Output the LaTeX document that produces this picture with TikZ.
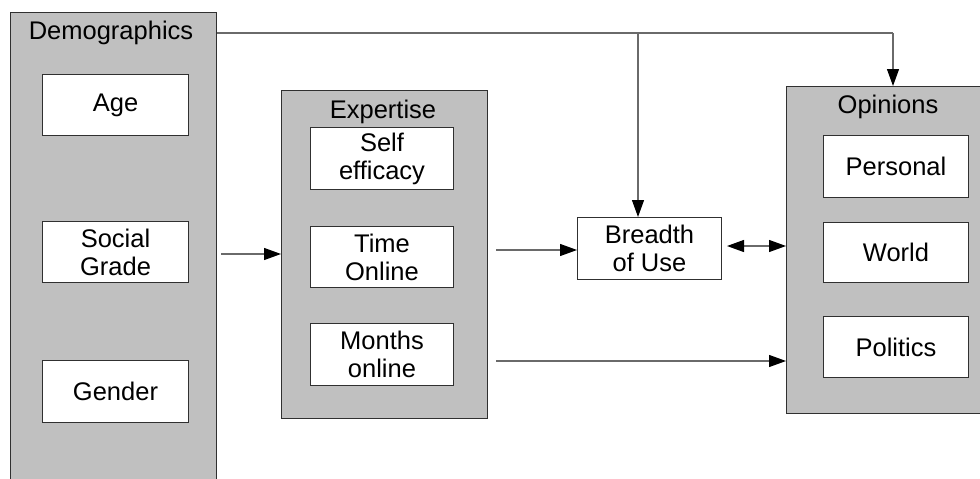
\documentclass[tikz,border=0pt]{standalone}
\usepackage{fontspec}
\setmainfont{Liberation Sans}
\usetikzlibrary{arrows.meta}
\definecolor{boxgray}{HTML}{C0C0C0}
\definecolor{edgegray}{HTML}{303030}
\definecolor{linegray}{HTML}{6A6A6A}
\tikzset{
  group/.style={draw=edgegray, fill=boxgray, line width=1pt, rectangle, anchor=north west, inner sep=0pt},
  item/.style={draw=edgegray, fill=white, line width=1pt, rectangle, anchor=north west, inner sep=0pt,
    align=center, font=\fontsize{25.5}{28}\selectfont},
  title/.style={font=\fontsize{25.5}{28}\selectfont, inner sep=0pt},
  tip/.style={},
  conn/.style={draw=linegray, line width=1.2pt, -{Triangle[length=17pt,width=12pt,color=black]}},
  dconn/.style={draw=linegray, line width=1.2pt, {Triangle[length=17pt,width=12pt,color=black]}-{Triangle[length=17pt,width=12pt,color=black]}},
  plain/.style={draw=linegray, line width=1.2pt}
}
\begin{document}
\begin{tikzpicture}[x=1pt,y=1pt]
\useasboundingbox (0,0) rectangle (980,-479);
\clip (0,0) rectangle (980,-479);
% Demographics group
\node[group, minimum width=206pt, minimum height=480pt] (demo) at (10,-12) {};
\node[title] (demotitle) at (111,-33) {Demographics};
\node[item, minimum width=146pt, minimum height=61pt] (age) at (42,-74) {Age};
\node[item, minimum width=146pt, minimum height=61pt] (social) at (42,-221) {Social\\Grade};
\node[item, minimum width=146pt, minimum height=62pt] (gender) at (42,-360) {Gender};
% Expertise group
\node[group, minimum width=206pt, minimum height=328pt] (expert) at (281,-90) {};
\node[title] (experttitle) at (383,-112) {Expertise};
\node[item, minimum width=143pt, minimum height=62pt] (self) at (310,-127) {Self\\efficacy};
\node[item, minimum width=143pt, minimum height=61pt] (time) at (310,-226) {Time\\Online};
\node[item, minimum width=143pt, minimum height=62pt] (months) at (310,-323) {Months\\online};
% Breadth of use
\node[item, minimum width=144pt, minimum height=62pt] (breadth) at (577,-217) {Breadth\\of Use};
% Opinions group
\node[group, minimum width=210pt, minimum height=327pt] (opin) at (786,-86) {};
\node[title] (opintitle) at (888,-107) {Opinions};
\node[item, minimum width=145pt, minimum height=62pt] (personal) at (823,-135) {Personal};
\node[item, minimum width=145pt, minimum height=60pt] (world) at (823,-222) {World};
\node[item, minimum width=145pt, minimum height=61pt] (politics) at (823,-316) {Politics};
% connectors
\coordinate (topturn) at (893,-33);
\coordinate (branch) at (638,-33);
\draw[plain] (demo.east |- topturn) -- (topturn);
\draw[conn] (topturn) -- (opin.north -| topturn);
\draw[conn] (branch) -- (breadth.north -| branch);
\draw[conn] ([xshift=4pt]demo.east |- 0,-254) -- (expert.west |- 0,-254);
\draw[conn] ([xshift=8pt]expert.east |- 0,-250) -- (breadth.west |- 0,-250);
\draw[conn] ([xshift=8pt]expert.east |- 0,-361) -- (opin.west |- 0,-361);
\draw[dconn] ([xshift=5pt]breadth.east |- 0,-246) -- (opin.west |- 0,-246);
\end{tikzpicture}
\end{document}
